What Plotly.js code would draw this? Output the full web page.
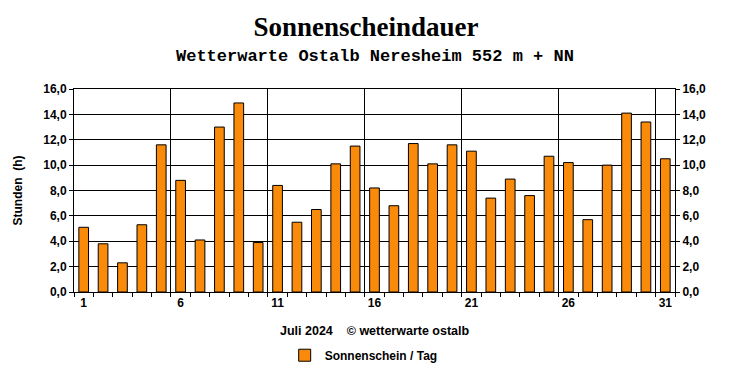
<!DOCTYPE html>
<html>
<head>
<meta charset="utf-8">
<script src="https://cdn.plot.ly/plotly-3.0.1.min.js"></script>
<style>html,body{margin:0;padding:0;background:#fff;}#chart{width:732px;height:380px;}</style>
</head>
<body>
<div id="chart"></div>
<script>
const days = Array.from({length: 31}, (_, i) => i + 1);
const sunshineHours = [5.1, 3.8, 2.3, 5.3, 11.6, 8.8, 4.1, 13.0, 14.9, 3.9,
  8.4, 5.5, 6.5, 10.1, 11.5, 8.2, 6.8, 11.7, 10.1, 11.6,
  11.1, 7.4, 8.9, 7.6, 10.7, 10.2, 5.7, 10.0, 14.1, 13.4, 10.5];
const labelDays = [1, 6, 11, 16, 21, 26, 31];
const yTicks = [0, 2, 4, 6, 8, 10, 12, 14, 16];
const seriesName = 'Sonnenschein / Tag';

const dayBoundaries = days.map(d => d - 0.5).concat([days.length + 0.5]);
const gridBoundaries = labelDays.slice(1).map(d => d - 0.5);
const xRange = [0.5, days.length + 0.5];
const yRange = [0, 16];
const tickFont = {family: 'Liberation Sans, Arial, sans-serif', size: 12, color: '#000', weight: 'bold'};

const traces = [
  {
    type: 'bar', x: days, y: sunshineHours, name: seriesName,
    marker: {color: '#FA8A0A', line: {color: '#000', width: 1}},
    showlegend: true, hoverinfo: 'x+y'
  },
  {
    type: 'scatter', x: [null], y: [null], xaxis: 'x2', yaxis: 'y2',
    mode: 'markers', showlegend: false, hoverinfo: 'skip'
  }
];

const layout = {
  width: 732, height: 380,
  margin: {l: 74, r: 57, t: 89, b: 87, pad: 0},
  paper_bgcolor: '#fff', plot_bgcolor: '#fff',
  bargap: 0.5,
  separators: ',.',
  title: {
    text: 'Sonnenscheindauer',
    font: {family: 'Liberation Serif, Times New Roman, serif', size: 27, color: '#000', weight: 'bold'},
    x: 0.5, xanchor: 'center', y: 0.93, yanchor: 'middle'
  },
  xaxis: {
    range: xRange, tickmode: 'array', tickvals: labelDays, ticktext: labelDays.map(String),
    ticks: '', showgrid: false, zeroline: false,
    showline: true, linecolor: '#000', linewidth: 1, mirror: true,
    tickfont: tickFont,
    minor: {tickmode: 'array', tickvals: dayBoundaries, ticks: 'outside', ticklen: 4, tickcolor: '#000', showgrid: false}
  },
  xaxis2: {
    overlaying: 'x', range: xRange, tickmode: 'array', tickvals: gridBoundaries,
    showticklabels: false, ticks: '', showgrid: true, gridcolor: '#000', gridwidth: 1,
    zeroline: false, showline: false
  },
  yaxis: {
    range: yRange, tickmode: 'array', tickvals: yTicks, tickformat: '.1f',
    ticks: 'outside', ticklen: 4, tickcolor: '#000',
    showgrid: true, gridcolor: '#000', gridwidth: 1, zeroline: false,
    showline: true, linecolor: '#000', linewidth: 1, mirror: true,
    tickfont: tickFont,
    title: {text: 'Stunden  (h)', font: {family: 'Liberation Sans, Arial, sans-serif', size: 12, color: '#000', weight: 'bold'}, standoff: 18}
  },
  yaxis2: {
    overlaying: 'y', side: 'right', range: yRange, tickmode: 'array', tickvals: yTicks, tickformat: '.1f',
    ticks: 'outside', ticklen: 4, tickcolor: '#000', showgrid: false, zeroline: false,
    showline: false, tickfont: tickFont
  },
  legend: {
    orientation: 'h', x: 0.482, xanchor: 'center', y: -0.305, yanchor: 'middle',
    font: {family: 'Liberation Sans, Arial, sans-serif', size: 12, color: '#000', weight: 'bold'}
  },
  annotations: [
    {
      text: 'Wetterwarte Ostalb Neresheim 552 m + NN', xref: 'paper', yref: 'paper',
      x: 0.5, y: 0, xanchor: 'center', yanchor: 'middle', showarrow: false,
      yshift: 236,
      font: {family: 'Liberation Mono, Courier New, monospace', size: 17, color: '#000', weight: 'bold'}
    },
    {
      text: 'Juli 2024    © wetterwarte ostalb', xref: 'paper', yref: 'paper',
      x: 0.5, y: 0, xanchor: 'center', yanchor: 'middle', showarrow: false,
      yshift: -39,
      font: {family: 'Liberation Sans, Arial, sans-serif', size: 12.5, color: '#000', weight: 'bold'}
    }
  ]
};

Plotly.newPlot('chart', traces, layout, {displayModeBar: false, staticPlot: true});
</script>
</body>
</html>
